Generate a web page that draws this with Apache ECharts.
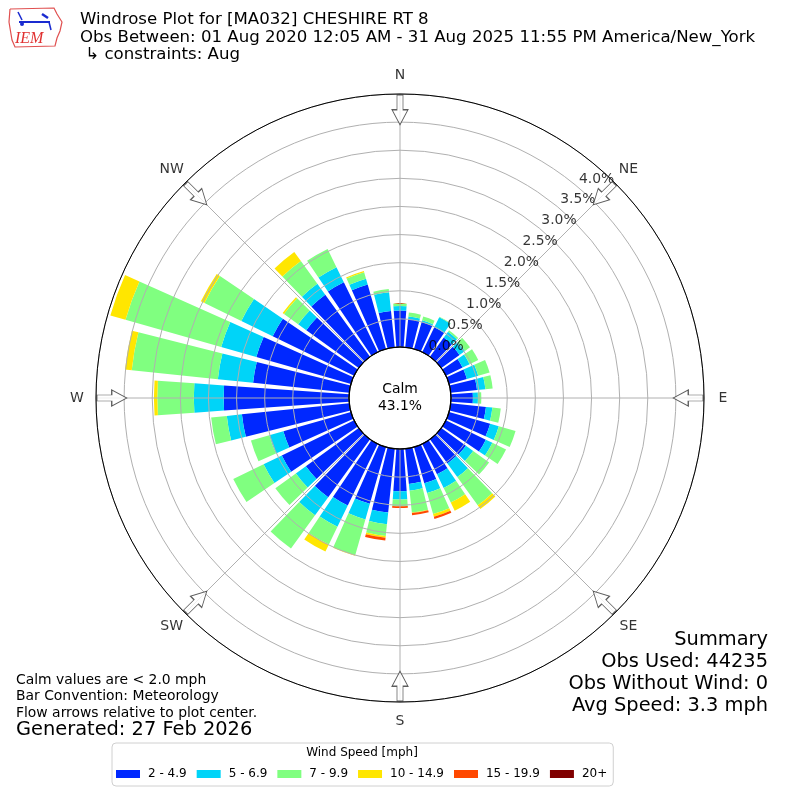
<!DOCTYPE html>
<html>
<head>
<meta charset="utf-8">
<title>Windrose MA032</title>
<script src="https://cdn.jsdelivr.net/npm/echarts@6/dist/echarts.min.js"></script>
<style>
  html, body { margin: 0; padding: 0; background: #fff; }
  #main { width: 800px; height: 800px; }
</style>
</head>
<body>
<div id="main"></div>
<script>
// direction bins (degrees, meteorological) and speed bins
const directions = [0, 10, 20, 30, 40, 50, 60, 70, 80, 90, 100, 110, 120, 130, 140, 150, 160, 170,
    180, 190, 200, 210, 220, 230, 240, 250, 260, 270, 280, 290, 300, 310, 320, 330, 340, 350]
const speedBins = ['2 - 4.9', '5 - 6.9', '7 - 9.9', '10 - 14.9', '15 - 19.9', '20+']
const speedColors = ['#0028ff', '#00d4f8', '#80ff80', '#ffe600', '#ff4800', '#800000']

// percent of obs per direction, one array per speed bin
const pct2to5 = [0.65, 0.50, 0.50, 0.49, 0.42, 0.40, 0.33, 0.33, 0.47, 0.39, 0.63, 0.76, 0.79, 0.54, 0.53, 0.60, 0.67, 0.63,
    0.75, 1.14, 1.05, 1.22, 1.27, 1.16, 1.43, 1.25, 1.92, 2.23, 1.72, 1.75, 1.61, 1.15, 1.36, 1.38, 1.19, 0.65]
const pct5to7 = [0.08, 0.05, 0.03, 0.20, 0.13, 0.12, 0.14, 0.21, 0.15, 0.09, 0.115, 0.16, 0.13, 0.16, 0.30, 0.27, 0.18, 0.12,
    0.15, 0.21, 0.29, 0.42, 0.40, 0.22, 0.36, 0.26, 0.27, 0.53, 0.63, 0.65, 0.62, 0.18, 0.24, 0.30, 0.11, 0.335]
const pct7to10 = [0.045, 0.07, 0.07, 0.01, 0.03, 0.11, 0.17, 0.21, 0.13, 0.06, 0.15, 0.31, 0.27, 0.35, 0.62, 0.29, 0.39, 0.39,
    0.12, 0.21, 0.66, 0.35, 0.73, 0.45, 0.60, 0.34, 0.28, 0.65, 1.54, 1.77, 0.73, 0.31, 0.50, 0.36, 0.12, 0.055]
const pct10to15 = [0, 0, 0, 0, 0, 0, 0, 0, 0, 0, 0, 0, 0, 0, 0.08, 0.16, 0.05, 0.01,
    0, 0.03, 0.01, 0.14, 0, 0, 0, 0, 0, 0.06, 0.12, 0.28, 0.07, 0.03, 0.20, 0, 0.02, 0]
const pct15to20 = [0, 0, 0, 0, 0, 0, 0, 0, 0, 0, 0, 0, 0, 0, 0, 0, 0.04, 0.04,
    0.03, 0.05, 0, 0, 0, 0, 0, 0, 0, 0, 0, 0, 0, 0, 0, 0, 0, 0]
const pct20plus = [0, 0, 0, 0, 0, 0, 0, 0, 0, 0, 0, 0, 0, 0, 0, 0, 0, 0,
    0, 0, 0, 0, 0, 0, 0, 0, 0, 0, 0, 0, 0, 0, 0, 0, 0, 0]

const ringTicks = [0, 0.5, 1.0, 1.5, 2.0, 2.5, 3.0, 3.5, 4.0]
const compassAngles = [0, 45, 90, 135, 180, 225, 270, 315]
const compassNames = ['N', 'NE', 'E', 'SE', 'S', 'SW', 'W', 'NW']
const calmPct = 43.1

const titleLines = [
    'Windrose Plot for [MA032] CHESHIRE RT 8',
    'Obs Between: 01 Aug 2020 12:05 AM - 31 Aug 2025 11:55 PM America/New_York',
    ' \u21b3 constraints: Aug'
]
const noteLines = ['Calm values are < 2.0 mph', 'Bar Convention: Meteorology', 'Flow arrows relative to plot center.']
const generatedText = 'Generated: 27 Feb 2026'
const summaryLines = ['Summary', 'Obs Used: 44235', 'Obs Without Wind: 0', 'Avg Speed: 3.3 mph']

const speedData = [pct2to5, pct5to7, pct7to10, pct10to15, pct15to20, pct20plus]

const FONT = '"DejaVu Sans", sans-serif'
const CX = 400, CY = 398
const RMAX = 4.5

const chart = echarts.init(document.getElementById('main'))

const barSeries = speedBins.map((name, i) => ({
    type: 'bar',
    name: name,
    coordinateSystem: 'polar',
    polarIndex: 0,
    stack: 'wind',
    data: speedData[i],
    barCategoryGap: '18%',
    itemStyle: { color: speedColors[i] },
    z: 2
}))

// open arrow pointing to the center
const arrowPath = 'path://M5,0 L11,0 L11,15 L16,15 L8,30 L0,15 L5,15 Z'

const graphics = []
titleLines.forEach((t, i) => {
    graphics.push({
        type: 'text', x: 80, y: 20 + i * 17.5,
        style: { text: t, font: '16.6px ' + FONT, fill: '#000', textVerticalAlign: 'middle' }
    })
})
noteLines.forEach((t, i) => {
    graphics.push({
        type: 'text', x: 16, y: 680 + i * 16.5,
        style: { text: t, font: '13.9px ' + FONT, fill: '#000', textVerticalAlign: 'middle' }
    })
})
graphics.push({
    type: 'text', x: 16, y: 730,
    style: { text: generatedText, font: '19.4px ' + FONT, fill: '#000', textVerticalAlign: 'middle' }
})
summaryLines.forEach((t, i) => {
    graphics.push({
        type: 'text', x: 768, y: 640 + i * 22,
        style: { text: t, font: '19.4px ' + FONT, fill: '#000', textAlign: 'right', textVerticalAlign: 'middle' }
    })
})
graphics.push({
    type: 'text', x: CX, y: CY,
    style: { text: 'Calm\n' + calmPct.toFixed(1) + '%', font: '13.9px ' + FONT, fill: '#000',
        textAlign: 'center', textVerticalAlign: 'middle', lineHeight: 17 }, z: 20
})
graphics.push({
    type: 'text', x: 362, y: 753,
    style: { text: 'Wind Speed [mph]', font: '12px ' + FONT, fill: '#000', textAlign: 'center', textVerticalAlign: 'middle' }, z: 20
})
// IEM logo, rough
graphics.push({
    type: 'group', x: 0, y: 0, children: [
        { type: 'polyline', shape: { points: [[10, 9], [54, 8], [57, 14], [62, 22], [60, 31], [57, 38], [55, 46], [15, 47], [12, 40], [9, 22], [10, 9]] },
            style: { stroke: '#e05050', lineWidth: 1.2, fill: null } },
        { type: 'line', shape: { x1: 19, y1: 22, x2: 50, y2: 22 }, style: { stroke: '#1a2bd0', lineWidth: 2 } },
        { type: 'circle', shape: { cx: 22, cy: 24, r: 2 }, style: { fill: '#1a2bd0' } },
        { type: 'line', shape: { x1: 18, y1: 12, x2: 22, y2: 20 }, style: { stroke: '#1a2bd0', lineWidth: 1.5 } },
        { type: 'line', shape: { x1: 42, y1: 14, x2: 48, y2: 18 }, style: { stroke: '#1a2bd0', lineWidth: 2.5 } },
        { type: 'line', shape: { x1: 49, y1: 22, x2: 51, y2: 30 }, style: { stroke: '#1a2bd0', lineWidth: 1.5 } },
        { type: 'text', x: 15, y: 39, style: { text: 'IEM', font: 'italic 16px "Liberation Serif", serif', fill: '#e03030', textVerticalAlign: 'middle' } }
    ]
})

const option = {
    animation: false,
    backgroundColor: '#fff',
    textStyle: { fontFamily: FONT },
    polar: [
        { center: [CX, CY], radius: [51, 304] },
        { center: [CX, CY], radius: [51, 304] },
        { center: [CX, CY], radius: [0, 51] }
    ],
    angleAxis: [
        {
            polarIndex: 0, type: 'category', data: directions.map(String), startAngle: 95, clockwise: true,
            axisLine: { show: false }, axisTick: { show: false }, axisLabel: { show: false }, splitLine: { show: false }
        },
        {
            polarIndex: 1, type: 'value', min: 0, max: 360, interval: 45, startAngle: 90, clockwise: true, z: 5,
            axisLine: { lineStyle: { color: '#000', width: 1 } },
            axisTick: { show: false },
            axisLabel: { show: false },
            splitLine: { show: true, lineStyle: { color: '#b0b0b0', width: 1 } }
        },
        {
            polarIndex: 2, type: 'value', min: 0, max: 360, startAngle: 90, z: 6,
            axisLine: { lineStyle: { color: '#000', width: 1.2 } },
            axisTick: { show: false }, axisLabel: { show: false }, splitLine: { show: false }
        }
    ],
    radiusAxis: [
        { polarIndex: 0, type: 'value', min: 0, max: RMAX, show: false },
        {
            polarIndex: 1, type: 'value', min: 0, max: RMAX, interval: 0.5, z: 5,
            axisLine: { show: false }, axisTick: { show: false }, axisLabel: { show: false },
            splitLine: { show: true, lineStyle: { color: '#b0b0b0', width: 1 } }
        },
        { polarIndex: 2, type: 'value', min: 0, max: 1, show: false }
    ],
    legend: {
        data: speedBins,
        left: 112, top: 743,
        icon: 'rect', itemWidth: 24, itemHeight: 8, itemGap: 10,
        padding: [25, 6, 6, 4],
        borderColor: '#d0d0d0', borderWidth: 1, borderRadius: 4,
        selectedMode: false,
        textStyle: { fontSize: 12, color: '#000', fontFamily: FONT, padding: [0, 0, 0, 3] }
    },
    series: barSeries.concat([
        {
            // ring labels
            type: 'scatter', coordinateSystem: 'polar', polarIndex: 1, z: 8, silent: true,
            symbolSize: 0,
            data: ringTicks.map(t => [t, 42]),
            label: {
                show: true, position: 'inside', offset: [12, -14], color: '#000', fontSize: 13.9, fontFamily: FONT,
                formatter: p => p.value[0].toFixed(1) + '%'
            }
        },
        {
            // compass labels, centred just outside the outer ring
            type: 'scatter', coordinateSystem: 'polar', polarIndex: 1, z: 8, silent: true,
            symbolSize: 0,
            data: compassAngles.map((a, i) => ({
                value: [RMAX, a], name: compassNames[i],
                label: { offset: [19 * Math.sin(a * Math.PI / 180), -19 * Math.cos(a * Math.PI / 180)] }
            })),
            label: { show: true, position: 'inside', color: '#000', fontSize: 14, fontFamily: FONT, formatter: p => p.name }
        },
        {
            type: 'scatter', coordinateSystem: 'polar', polarIndex: 1, z: 10, silent: true,
            symbol: arrowPath, symbolSize: [16, 30],
            data: compassAngles.map(a => ({ value: [4.22, a], symbolRotate: -a })),
            itemStyle: { color: '#fff', borderColor: '#333', borderWidth: 1 }
        }
    ]),
    graphic: graphics
}

chart.setOption(option)
</script>
</body>
</html>
